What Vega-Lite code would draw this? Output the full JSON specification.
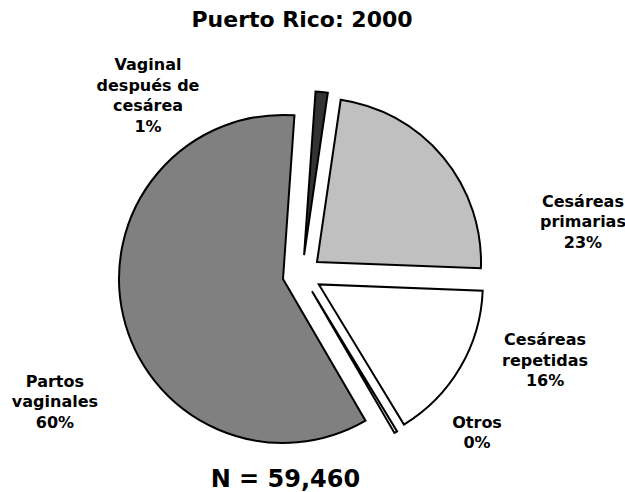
{
  "$schema": "https://vega.github.io/schema/vega-lite/v6.json",
  "autosize": "none",
  "width": 604,
  "height": 435,
  "padding": {"left": 0, "top": 57, "right": 21, "bottom": 0},
  "background": "white",
  "title": {"text": "Puerto Rico: 2000", "font": "DejaVu Sans", "fontSize": 22, "fontWeight": "bold", "color": "#000000", "anchor": "middle", "offset": 25},
  "config": {"view": {"stroke": null}},
  "data": {"values": [
    {"order": 1, "name": "Vaginal después de cesárea", "label": "Vaginal\ndespués de\ncesárea\n1%", "value": 1.2},
    {"order": 2, "name": "Cesáreas primarias", "label": "Cesáreas\nprimarias\n23%", "value": 23.3},
    {"order": 3, "name": "Cesáreas repetidas", "label": "Cesáreas\nrepetidas\n16%", "value": 15.7},
    {"order": 4, "name": "Otros", "label": "Otros\n0%", "value": 0.3},
    {"order": 5, "name": "Partos vaginales", "label": "Partos\nvaginales\n60%", "value": 59.5}
  ]},
  "transform": [{"stack": "value", "groupby": [], "sort": [{"field": "order"}], "as": ["v0", "v1"]}],
  "layer": [
    {"transform": [{"filter": "datum.order == 1"}],
     "mark": {"type": "arc", "radius": 164, "stroke": "#000000", "strokeWidth": 2, "xOffset": 2.09, "yOffset": -19.39},
     "encoding": {"theta": {"field": "v0", "type": "quantitative", "stack": null, "scale": {"domain": [0, 100], "range": [0.0698, 6.3530]}}, "theta2": {"field": "v1"},
       "color": {"field": "name", "type": "nominal", "legend": null, "scale": {"domain": ["Vaginal después de cesárea", "Cesáreas primarias", "Cesáreas repetidas", "Otros", "Partos vaginales"], "range": ["#333333", "#c0c0c0", "#ffffff", "#ffffff", "#808080"]}}}},
    {"transform": [{"filter": "datum.order == 2"}],
     "mark": {"type": "arc", "radius": 164, "stroke": "#000000", "strokeWidth": 2, "xOffset": 14.99, "yOffset": -12.48},
     "encoding": {"theta": {"field": "v0", "type": "quantitative", "stack": null}, "theta2": {"field": "v1"},
       "color": {"field": "name", "type": "nominal", "legend": null}}},
    {"transform": [{"filter": "datum.order == 3"}],
     "mark": {"type": "arc", "radius": 164, "stroke": "#000000", "strokeWidth": 2, "xOffset": 16.8, "yOffset": 9.9},
     "encoding": {"theta": {"field": "v0", "type": "quantitative", "stack": null}, "theta2": {"field": "v1"},
       "color": {"field": "name", "type": "nominal", "legend": null}}},
    {"transform": [{"filter": "datum.order == 4"}],
     "mark": {"type": "arc", "radius": 164, "stroke": "#000000", "strokeWidth": 2, "xOffset": 9.97, "yOffset": 16.76},
     "encoding": {"theta": {"field": "v0", "type": "quantitative", "stack": null}, "theta2": {"field": "v1"},
       "color": {"field": "name", "type": "nominal", "legend": null}}},
    {"transform": [{"filter": "datum.order == 5"}],
     "mark": {"type": "arc", "radius": 164, "stroke": "#000000", "strokeWidth": 2, "xOffset": -18.99, "yOffset": 4.42},
     "encoding": {"theta": {"field": "v0", "type": "quantitative", "stack": null}, "theta2": {"field": "v1"},
       "color": {"field": "name", "type": "nominal", "legend": null}}},
    {"transform": [{"filter": "datum.order == 1"}],
     "mark": {"type": "text", "radius": 260, "font": "DejaVu Sans", "fontSize": 16, "fontWeight": "bold", "lineBreak": "\n", "lineHeight": 20.5, "align": "center", "baseline": "middle", "color": "#000000"},
     "encoding": {"theta": {"datum": 88.8, "type": "quantitative"}, "text": {"field": "label"}}},
    {"transform": [{"filter": "datum.order == 2"}],
     "mark": {"type": "text", "radius": 290.2, "font": "DejaVu Sans", "fontSize": 16, "fontWeight": "bold", "lineBreak": "\n", "lineHeight": 20.5, "align": "center", "baseline": "middle", "color": "#000000"},
     "encoding": {"theta": {"datum": 19.86, "type": "quantitative"}, "text": {"field": "label"}}},
    {"transform": [{"filter": "datum.order == 3"}],
     "mark": {"type": "text", "radius": 251.7, "font": "DejaVu Sans", "fontSize": 16, "fontWeight": "bold", "lineBreak": "\n", "lineHeight": 20.5, "align": "center", "baseline": "middle", "color": "#000000"},
     "encoding": {"theta": {"datum": 28.08, "type": "quantitative"}, "text": {"field": "label"}}},
    {"transform": [{"filter": "datum.order == 4"}],
     "mark": {"type": "text", "radius": 229.5, "font": "DejaVu Sans", "fontSize": 16, "fontWeight": "bold", "lineBreak": "\n", "lineHeight": 20.5, "align": "center", "baseline": "middle", "color": "#000000"},
     "encoding": {"theta": {"datum": 35.08, "type": "quantitative"}, "text": {"field": "label"}}},
    {"transform": [{"filter": "datum.order == 5"}],
     "mark": {"type": "text", "radius": 269.4, "font": "DejaVu Sans", "fontSize": 16, "fontWeight": "bold", "lineBreak": "\n", "lineHeight": 20.5, "align": "center", "baseline": "middle", "color": "#000000"},
     "encoding": {"theta": {"datum": 67.36, "type": "quantitative"}, "text": {"field": "label"}}},
    {"data": {"values": [{"total": 59460, "caption": "N = 59,460"}]},
     "mark": {"type": "text", "radius": 206, "font": "DejaVu Sans", "fontSize": 24, "fontWeight": "bold", "align": "center", "baseline": "middle", "color": "#000000"},
     "encoding": {"theta": {"datum": 50.17, "type": "quantitative"}, "text": {"field": "caption"}}}
  ]
}
